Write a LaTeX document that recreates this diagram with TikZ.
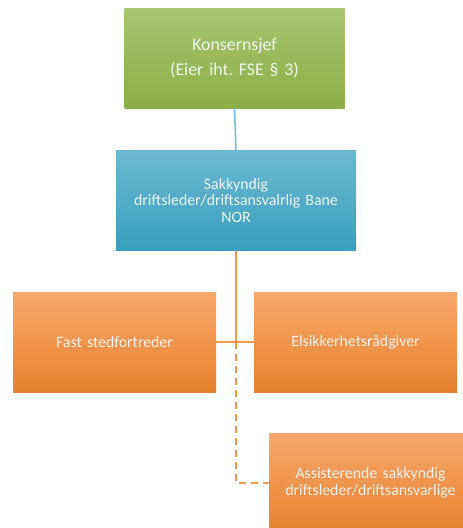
\documentclass[tikz,border=0pt]{standalone}
\usepackage{fontspec}
\setmainfont{Carlito}
\frenchspacing
\definecolor{greentop}{HTML}{A6C56F}
\definecolor{greenbot}{HTML}{8BAF46}
\definecolor{bluetop}{HTML}{6CB9D2}
\definecolor{bluebot}{HTML}{389FBD}
\definecolor{orangetop}{HTML}{F9A86C}
\definecolor{orangebot}{HTML}{E6812C}
\definecolor{bluelink}{HTML}{6CBDD0}
\definecolor{orangelink}{HTML}{F79646}
\tikzset{
  box/.style={rectangle, minimum height=100pt, text=white!95!black, align=center,
    font=\fontsize{15.8}{16.5}\selectfont, inner sep=4pt},
  greenbox/.style={box, top color=greentop, bottom color=greenbot},
  bluebox/.style={box, top color=bluetop, bottom color=bluebot},
  orangebox/.style={box, top color=orangetop, bottom color=orangebot, minimum width=201pt, text width=195pt},
  link/.style={line width=1.5pt},
}
\begin{document}
\begin{tikzpicture}[x=1pt, y=-1pt]
    \clip (0,0) rectangle (463,528);

    % Boxes
    \node[greenbox, minimum width=219pt, text width=212pt, font=\fontsize{17.8}{21}\selectfont]
      (chief) at (234.5,58) {Konsernsjef\\[4pt](Eier iht. FSE \S\ 3)};
    \node[bluebox, minimum width=240pt, text width=232pt] (lead) at (236,200.5)
      {Sakkyndig\\driftsleder/driftsansvalrlig Bane\\NOR};
    \node[orangebox] (deputy) at (114.5,342) {Fast stedfortreder};
    \node[orangebox] (advisor) at (355.5,342) {Elsikkerhetsrådgiver};
    \node[orangebox] (assist) at (370.5,483)
      {Assisterende sakkyndig\\driftsleder/driftsansvarlige};

    % Connectors
    \coordinate (junction) at (lead.south |- deputy.east);
    \draw[link, bluelink] (chief.south) -- (lead.north);
    \draw[link, orangelink] (lead.south) -- (junction);
    \draw[link, orangelink] (deputy.east) -- (advisor.west);
    \draw[link, orangelink, dash pattern=on 7pt off 5pt] (junction) |- (assist.west);
\end{tikzpicture}
\end{document}
